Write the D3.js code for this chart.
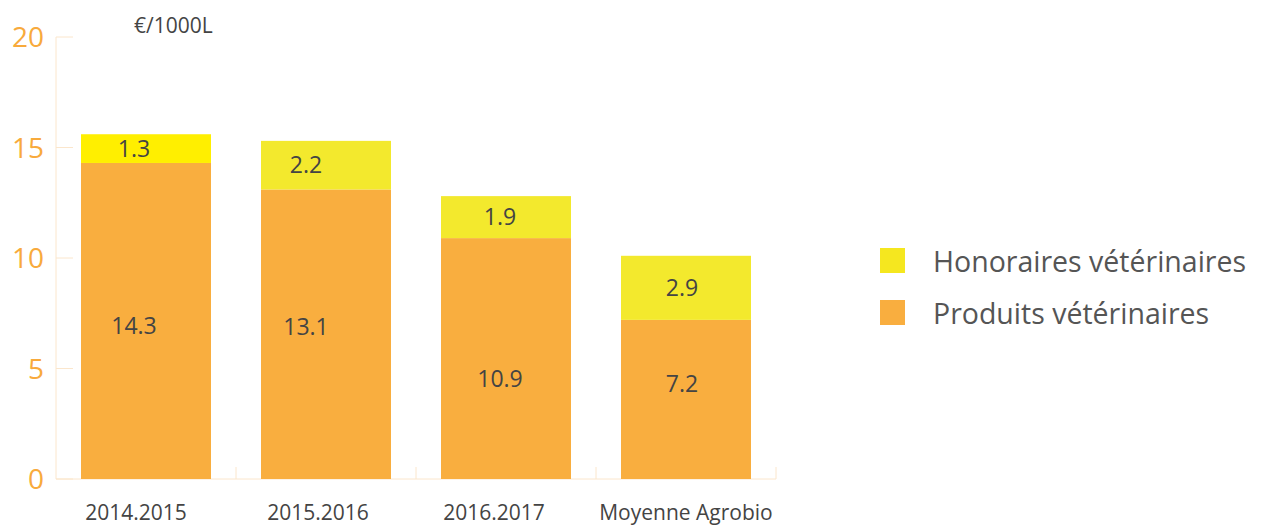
<!DOCTYPE html>
<html lang="fr">
<head>
<meta charset="UTF-8">
<title>Frais vétérinaires</title>
<script src="https://d3js.org/d3.v7.min.js"></script>
<style>
  body { margin: 0; background: #fff; font-family: "Open Sans", sans-serif; }
  .ytick text { fill: #f8aa3c; font-size: 28px; font-weight: 400; }
  .xlab { fill: #444; font-size: 21px; }
  .val { fill: #444; font-size: 23px; }
  .legend text { fill: #555; font-size: 28.5px; }
</style>
</head>
<body>
<div id="chart"></div>
<script>
// données
const categories = ["2014.2015", "2015.2016", "2016.2017", "Moyenne Agrobio"];
const produits = [14.3, 13.1, 10.9, 7.2];
const honoraires = [1.3, 2.2, 1.9, 2.9];
const yTicks = [0, 5, 10, 15, 20];
const seriesNames = ["Honoraires vétérinaires", "Produits vétérinaires"];

const width = 1269, height = 527;
const orange = "#f9ae3f";
const yellowTop = ["#ffef00", "#f3e92d", "#f3e92d", "#f3e92d"];
const labelDx = [-12, -20, -6, -4];
const labelDyP = [5, -8, 20, -16];

const svg = d3.select("#chart").append("svg")
    .attr("width", width).attr("height", height);

const x = d3.scaleBand()
    .domain(categories)
    .range([56, 776])
    .paddingInner(50 / 180)
    .paddingOuter(25 / 180);

const y = d3.scaleLinear().domain([0, 20]).range([479, 37]);

// axe Y
svg.append("line")
    .attr("x1", 56).attr("x2", 56)
    .attr("y1", y(20)).attr("y2", y(0))
    .attr("stroke", "#fbe6cc").attr("stroke-width", 1);

const yt = svg.selectAll(".ytick").data(yTicks).enter()
    .append("g").attr("class", "ytick")
    .attr("transform", d => `translate(0,${y(d)})`);
yt.append("line").attr("x1", 56).attr("x2", 73)
    .attr("stroke", "#fbe6cc");
yt.append("text").attr("x", 44).attr("dy", "0.36em")
    .attr("text-anchor", "end").text(d => d);

// axe X
svg.append("line")
    .attr("x1", 56).attr("x2", 776)
    .attr("y1", y(0)).attr("y2", y(0))
    .attr("stroke", "#fbe6cc");
svg.selectAll(".xtick").data(categories).enter()
    .append("line")
    .attr("x1", d => x(d) + x.bandwidth() + 25)
    .attr("x2", d => x(d) + x.bandwidth() + 25)
    .attr("y1", y(0)).attr("y2", y(0) - 12)
    .attr("stroke", "#fbe6cc");

// barres
const rows = categories.map((c, i) => ({ cat: c, p: produits[i], h: honoraires[i], i }));

svg.selectAll(".barP").data(rows).enter()
    .append("rect")
    .attr("x", d => x(d.cat))
    .attr("width", x.bandwidth())
    .attr("y", d => y(d.p))
    .attr("height", d => y(0) - y(d.p))
    .attr("fill", orange);

svg.selectAll(".barH").data(rows).enter()
    .append("rect")
    .attr("x", d => x(d.cat))
    .attr("width", x.bandwidth())
    .attr("y", d => y(d.p + d.h))
    .attr("height", d => y(d.p) - y(d.p + d.h))
    .attr("fill", d => yellowTop[d.i]);

// valeurs
svg.selectAll(".valP").data(rows).enter()
    .append("text").attr("class", "val")
    .attr("text-anchor", "middle").attr("dy", "0.36em")
    .attr("x", d => x(d.cat) + x.bandwidth() / 2 + labelDx[d.i])
    .attr("y", d => (y(0) + y(d.p)) / 2 + labelDyP[d.i])
    .text(d => d.p);

svg.selectAll(".valH").data(rows).enter()
    .append("text").attr("class", "val")
    .attr("text-anchor", "middle").attr("dy", "0.36em")
    .attr("x", d => x(d.cat) + x.bandwidth() / 2 + labelDx[d.i])
    .attr("y", d => (y(d.p) + y(d.p + d.h)) / 2)
    .text(d => d.h);

// libellés X
svg.selectAll(".xlab").data(categories).enter()
    .append("text").attr("class", "xlab")
    .attr("text-anchor", "middle")
    .attr("x", (d, i) => x(d) + x.bandwidth() / 2 + [-10, -8, -12, 0][i])
    .attr("y", 520)
    .text(d => d);

// unité
svg.append("text")
    .attr("x", 134).attr("y", 33)
    .attr("fill", "#444").attr("font-size", 21)
    .text("€/1000L");

// légende
const legendColors = ["#f5e71f", orange];
const lg = svg.selectAll(".legend").data(seriesNames).enter()
    .append("g").attr("class", "legend")
    .attr("transform", (d, i) => `translate(880,${248 + i * 52})`);
lg.append("rect").attr("width", 25).attr("height", 25)
    .attr("fill", (d, i) => legendColors[i]);
lg.append("text").attr("x", 53).attr("y", 14).attr("dy", "0.36em")
    .text(d => d);
</script>
</body>
</html>
